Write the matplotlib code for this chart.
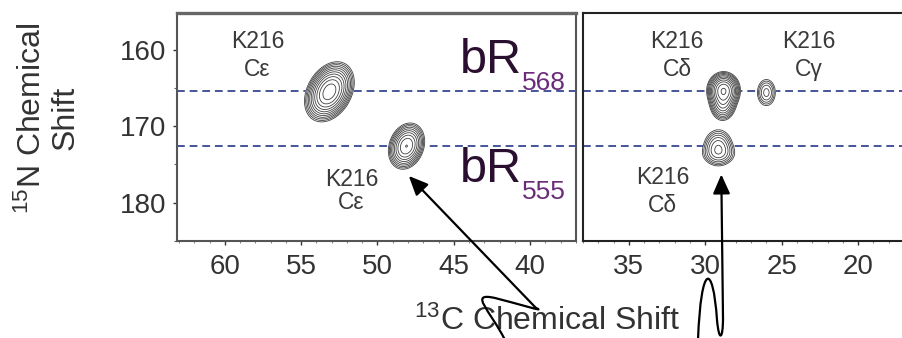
import numpy as np
import matplotlib
matplotlib.use("Agg")
import matplotlib.pyplot as plt
from matplotlib.path import Path
from matplotlib.patches import FancyArrowPatch
from matplotlib.ticker import MultipleLocator

plt.rcParams['font.family'] = ['Liberation Sans', 'DejaVu Sans']
plt.rcParams['mathtext.fontset'] = 'custom'
plt.rcParams['mathtext.rm'] = 'Liberation Sans'
plt.rcParams['mathtext.it'] = 'Liberation Sans:italic'

# cross-peak components: panel, 13C shift, 15N shift, height, widths, tilt
peak_panel = ['L', 'L', 'R', 'R', 'R', 'R', 'R']
peak_c13 = [53.15, 48.1, 28.8, 28.85, 26.0, 29.15, 29.1]
peak_n15 = [165.5, 172.6, 165.3, 167.2, 165.6, 172.7, 173.7]
peak_amp = [1.0, 0.6, 0.8, 0.3, 0.15, 0.22, 0.08]
peak_sig_c = [0.61, 0.50, 0.45, 0.40, 0.36, 0.50, 0.65]
peak_sig_n = [1.55, 1.30, 1.00, 1.00, 1.05, 1.20, 0.80]
peak_tilt = [0.13, 0.08, 0.0, 0.0, 0.0, 0.0, 0.0]

# chemical shifts of the two states (dashed guides)
state_n15 = [165.45, 172.6]
state_names = ['568', '555']

left_xticks = [60, 55, 50, 45, 40]
right_xticks = [35, 30, 25, 20]
yticks = [160, 170, 180]

W, H = 903, 338
fig = plt.figure(figsize=(W / 100, H / 100), dpi=100)
bottom, top = 1 - 241 / H, 1 - 13 / H
axL = fig.add_axes([177 / W, bottom, (576 - 177) / W, top - bottom])
axR = fig.add_axes([583 / W, bottom, (W - 583) / W, top - bottom])

axL.set_xlim(63.13, 37.0)
axR.set_xlim(38.0, 17.06)
for ax in (axL, axR):
    ax.set_ylim(185.0, 155.2)

levels = 0.04 * 1.35 ** np.arange(14)


def spectrum(ax, panel):
    x0, x1 = ax.get_xlim()
    y0, y1 = ax.get_ylim()
    X, Y = np.meshgrid(np.linspace(x1, x0, 500), np.linspace(y1, y0, 500))
    Z = np.zeros_like(X)
    for p, c, n, a, sc, sn, t in zip(peak_panel, peak_c13, peak_n15, peak_amp,
                                      peak_sig_c, peak_sig_n, peak_tilt):
        if p != panel:
            continue
        xc = c + t * (Y - n)
        Z += a * np.exp(-0.5 * (((X - xc) / sc) ** 2 + ((Y - n) / sn) ** 2))
    ax.contourf(X, Y, Z, levels=[levels[0], 10], colors='white', zorder=3)
    ax.contour(X, Y, Z, levels=levels, colors='#404040', linewidths=0.6, zorder=4)


spectrum(axL, 'L')
spectrum(axR, 'R')

for ax in (axL, axR):
    for n in state_n15:
        ax.axhline(n, color='#45549a', lw=1.4, dashes=(4, 2.5), zorder=2)

# axes styling
axL.set_xticks(left_xticks)
axR.set_xticks(right_xticks)
axL.set_yticks(yticks)
axR.set_yticks([])
for ax in (axL, axR):
    ax.xaxis.set_minor_locator(MultipleLocator(1))
    ax.tick_params(axis='x', which='major', direction='out', length=3,
                   width=1.0, pad=6, labelsize=20, colors='#333333')
    ax.tick_params(axis='x', which='minor', direction='out', length=1.5,
                   width=0.6, colors='#666666')
axL.yaxis.set_minor_locator(MultipleLocator(5))
axL.tick_params(axis='y', which='major', direction='out', length=3,
                width=1.0, pad=5, labelsize=20, colors='#333333')
axL.tick_params(axis='y', which='minor', direction='out', length=2,
                width=0.8, colors='#666666')
for s in axL.spines.values():
    s.set_color('#555555')
    s.set_linewidth(1.5)
axL.spines['top'].set_linewidth(2.4)
axL.spines['top'].set_color('#666666')
for s in axR.spines.values():
    s.set_color('#222222')
    s.set_linewidth(1.5)
axR.spines['right'].set_visible(False)

# residue labels
lab = dict(fontsize=16.5, color='#3a3a3a', ha='center', va='center', zorder=5)
axL.text(57.85, 158.95, 'K216', **lab)
axL.text(57.85, 162.6, 'Cε', **lab)
axL.text(51.7, 177.0, 'K216', **lab)
axL.text(51.7, 180.0, 'Cε', **lab)
axR.text(31.85, 158.95, 'K216', **lab)
axR.text(31.85, 162.6, 'Cδ', **lab)
axR.text(23.2, 158.95, 'K216', **lab)
axR.text(23.2, 162.6, 'Cγ', **lab)
axR.text(32.8, 176.7, 'K216', **lab)
axR.text(32.8, 180.3, 'Cδ', **lab)

# state names bR568 / bR555
for n, name in zip(state_n15, state_names):
    base = 163.0 if name == '568' else 177.25
    axL.text(44.6, base, 'bR', fontsize=35, color='#2a0f30',
             ha='left', va='baseline', zorder=5)
    axL.text(40.55, base + 2.3, name, fontsize=19, color='#6b2c7a',
             ha='left', va='baseline', zorder=5)

fig.text(49 / W, 1 - 118 / H, '$^{15}$N Chemical\nShift', rotation=90,
         fontsize=23, color='#333333', ha='center', va='center',
         multialignment='center', linespacing=1.1)
fig.text(547 / W, 1 - 321 / H, '$^{13}$C Chemical Shift', fontsize=23,
         color='#333333', ha='center', va='center')


# arrows pointing at the bR555 peaks
def fig_xy(px, py):
    return (px / W, 1 - py / H)


def tip(ax, c, n):
    return fig.transFigure.inverted().transform(ax.transData.transform((c, n)))


tipL = tip(axL, peak_c13[1] - 0.15, peak_n15[1] + 3.9)
tipR = tip(axR, peak_c13[5] - 0.2, peak_n15[5] + 3.6)

vertsL = [fig_xy(505, 340), fig_xy(490, 310), fig_xy(468, 292), fig_xy(495, 298),
          fig_xy(515, 303), fig_xy(548, 313), fig_xy(536, 308), tuple(tipL)]
codesL = [Path.MOVETO] + [Path.CURVE4] * 6 + [Path.LINETO]
vertsR = [fig_xy(698, 340), fig_xy(701, 262), fig_xy(713, 262), fig_xy(717, 320),
          fig_xy(719, 342), fig_xy(723, 340), fig_xy(723, 318), tuple(tipR)]

for verts in (vertsL, vertsR):
    arr = FancyArrowPatch(path=Path(verts, codesL),
                          arrowstyle='-|>,head_length=0.45,head_width=0.2',
                          mutation_scale=26, lw=1.6, color='black',
                          transform=fig.transFigure, zorder=10)
    fig.add_artist(arr)

fig.savefig('out.png', dpi=100, facecolor='white')
